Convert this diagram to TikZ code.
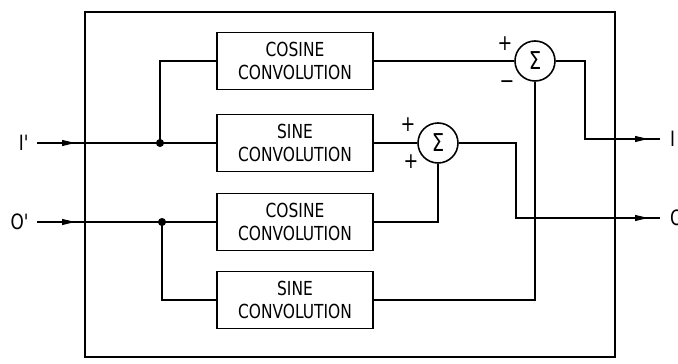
\documentclass[tikz,border=0pt]{standalone}
\usepackage{fontspec}
\setmainfont{DejaVu Sans}[FakeStretch=0.8]
\usetikzlibrary{arrows.meta,decorations.markings}
\tikzset{
  conv/.style={draw,line width=1.1pt,minimum width=3.12cm,minimum height=1.14cm,
    align=center,inner sep=0pt,font=\fontsize{11}{13.2}\selectfont},
  summer/.style={draw,circle,line width=.9pt,minimum size=.8cm,inner sep=0pt,
    font=\fontsize{14}{14}\selectfont},
  sig/.style={inner sep=0pt,font=\fontsize{12.5}{12.5}\selectfont},
  port/.style={inner ysep=0pt,inner xsep=4pt,font=\fontsize{12}{12}\selectfont},
  wire/.style={line width=.6pt},
  feed/.style={wire,postaction={decorate},decoration={markings,
    mark=at position #1 with {\arrow{Triangle[length=2.6mm,width=1.2mm]}}}},
}
\begin{document}
\begin{tikzpicture}
\useasboundingbox (0,0) rectangle (13.56,7.28);
\draw[line width=1.1pt] (1.70,.14) rectangle (12.30,7.04);
% convolution blocks
\node[conv] (cosA) at (5.9,6.06) {COSINE\\CONVOLUTION};
\node[conv] (sinA) at (5.9,4.42) {SINE\\CONVOLUTION};
\node[conv] (cosB) at (5.9,2.84) {COSINE\\CONVOLUTION};
\node[conv] (sinB) at (5.9,1.28) {SINE\\CONVOLUTION};
% summing junctions
\node[summer] (sumA) at (10.7,6.06) {Σ};
\node[summer] (sumB) at (8.76,4.42) {Σ};
\node[sig] (plusA) at ([shift={(-.6,.34)}]sumA) {+};
\node[sig] (minusA) at ([shift={(-.56,-.48)}]sumA) {−};
\node[sig] (plusB) at ([shift={(-.6,.36)}]sumB) {+};
\node[sig] (plusC) at ([shift={(-.54,-.38)}]sumB) {+};
% ports
\node[port,anchor=east] (inI) at (.74,4.42) {I\textquotesingle};
\node[port,anchor=east] (inO) at (.74,2.84) {O\textquotesingle};
\node[port,anchor=west,inner xsep=5.5pt] (outI) at (13.2,4.5) {I};
\node[port,anchor=west,inner xsep=5.5pt] (outO) at (13.2,2.92) {O};
\coordinate (dotI) at (3.2,4.42);
\coordinate (dotO) at (3.24,2.84);
% inputs
\draw[feed=.76cm] (inI.east) -- (sinA.west);
\draw[wire] (dotI) |- (cosA.west);
\fill (dotI) circle(2.3pt);
\draw[feed=.76cm] (inO.east) -- (cosB.west);
\draw[wire] (dotO) |- (sinB.west);
\fill (dotO) circle(2.3pt);
% into the sums
\draw[wire] (cosA.east) -- (sumA.west);
\draw[wire] (sinA.east) -- (sumB.west);
\draw[wire] (cosB.east) -| (sumB.south);
\draw[wire] (sinB.east) -| (sumA.south);
% outputs
\draw[feed=-.24cm] (sumA.east) -| (11.7,4.5) -- (outI.west);
\draw[feed=-.24cm] (sumB.east) -| (10.32,2.92) -- (outO.west);
\end{tikzpicture}
\end{document}
